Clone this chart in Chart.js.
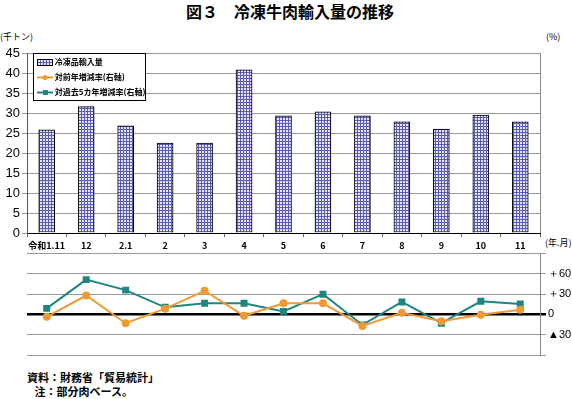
<!DOCTYPE html>
<html>
<head>
<meta charset="utf-8">
<script src="https://cdn.jsdelivr.net/npm/chart.js@4/dist/chart.umd.min.js"></script>
<style>
  body { margin: 0; background: #fff; width: 572px; height: 399px; position: relative; overflow: hidden;
         font-family: "Noto Sans CJK JP", "Liberation Sans", sans-serif; }
  .abs { position: absolute; }
  #title { left: 0; width: 580px; top: 0; text-align: center; font-size: 16px; font-weight: bold; line-height: 22px; }
  .unit { font-size: 9px; top: 30px; }
  #legend { left: 33px; top: 53px; width: 111px; height: 46px; border: 1px solid #000; background: #fff; font-size: 8px; font-weight: bold; }
  .item { position: absolute; left: 3px; height: 10px; line-height: 10px; white-space: nowrap; }
  .item canvas { display: inline-block; vertical-align: middle; }
  #notes { left: 27px; top: 370px; font-size: 11px; font-weight: bold; line-height: 14px; }
</style>
</head>
<body>
<div id="title" class="abs">図３　冷凍牛肉輸入量の推移</div>
<div class="abs unit" style="left:0">(千トン)</div>
<div class="abs unit" style="left:546px">(%)</div>
<div class="abs" style="left:545px; top:236px; font-size:9px;">(年.月)</div>

<div class="abs" style="left:0; top:30px; width:572px; height:225px;"><canvas id="barChart"></canvas></div>
<div class="abs" style="left:0; top:245px; width:572px; height:120px;"><canvas id="lineChart"></canvas></div>

<div id="legend" class="abs">
  <div class="item" style="top:3px"><canvas id="swBar" width="16" height="7"></canvas> 冷凍品輸入量</div>
  <div class="item" style="top:18px"><canvas id="swYoy" width="16" height="7"></canvas> 対前年増減率(右軸)</div>
  <div class="item" style="top:33px"><canvas id="swFive" width="16" height="7"></canvas> 対過去5カ年増減率(右軸)</div>
</div>

<div id="notes" class="abs">資料：財務省「貿易統計」<br>&nbsp;&nbsp;&nbsp;注：部分肉ベース。</div>

<script>
// --- DATA ---
const categories = ['令和1.11', '12', '2.1', '2', '3', '4', '5', '6', '7', '8', '9', '10', '11'];
const importVolume = [25.8, 31.6, 26.8, 22.5, 22.5, 40.8, 29.3, 30.3, 29.3, 27.8, 26.0, 29.5, 27.8];
const yoyChange = [-3.5, 28, -13, 8.5, 35, -2, 16.5, 16.5, -17, 2.5, -10, -0.5, 7];
const fiveYearChange = [9, 51.5, 36, 10.5, 16.5, 16.5, 4.5, 30, -15.5, 18.5, -13, 19.5, 15.5];
const rightTickLabels = { '60': '＋60', '30': '＋30', '0': '0', '-30': '▲30' };

const ORANGE = '#ef9a32';
const TEAL = '#1f8580';

// checkered fill for bars
function makePattern() {
    const c = document.createElement('canvas');
    c.width = 3; c.height = 3;
    const g = c.getContext('2d');
    g.fillStyle = '#e4e4f6';
    g.fillRect(0, 0, 3, 3);
    g.fillStyle = '#5b5bb0';
    g.fillRect(0, 0, 3, 1);
    g.fillRect(0, 0, 1, 3);
    return g.createPattern(c, 'repeat');
}

// right frame line of the bar chart
const frame = {
    id: 'frame',
    afterDraw(chart, args, opts) {
        const { ctx, chartArea: a } = chart;
        if (!opts.right) return;
        ctx.save();
        ctx.strokeStyle = opts.color || '#888';
        ctx.lineWidth = 1;
        ctx.beginPath();
        ctx.moveTo(Math.round(a.right) + 0.5, a.top);
        ctx.lineTo(Math.round(a.right) + 0.5, a.bottom);
        ctx.stroke();
        ctx.restore();
    }
};

const fontFamily = '"Liberation Sans", Arial, sans-serif';

new Chart(document.getElementById('barChart'), {
    type: 'bar',
    data: {
        labels: categories,
        datasets: [{
            label: '冷凍品輸入量',
            data: importVolume,
            backgroundColor: makePattern(),
            borderColor: '#000',
            borderWidth: 1,
            barThickness: 16
        }]
    },
    options: {
        responsive: true,
        maintainAspectRatio: false,
        animation: false,
        layout: { padding: { left: 0, right: 32, top: 23, bottom: 0 } },
        plugins: { legend: { display: false }, tooltip: { enabled: false }, frame: { right: true, color: '#888' } },
        scales: {
            x: {
                afterFit: s => { s.height = 22; },
                grid: { drawOnChartArea: false, drawTicks: true, tickLength: 4, color: '#666', offset: true },
                border: { color: '#000' },
                ticks: {
                    color: '#000', padding: 3, maxRotation: 0, minRotation: 0, autoSkip: false,
                    font: { family: '"Noto Sans CJK JP", sans-serif', size: 9, weight: 'bold' }
                }
            },
            y: {
                min: 0, max: 45,
                afterFit: s => { s.width = 27; },
                grid: { color: '#999', tickLength: 5 },
                border: { color: '#555' },
                ticks: { stepSize: 5, color: '#000', padding: 2, font: { family: fontFamily, size: 13 } }
            }
        }
    },
    plugins: [frame]
});

new Chart(document.getElementById('lineChart'), {
    type: 'line',
    data: {
        labels: categories,
        datasets: [{
            label: '対前年増減率(右軸)',
            data: yoyChange,
            borderColor: ORANGE,
            backgroundColor: ORANGE,
            borderWidth: 2,
            pointStyle: 'circle',
            pointRadius: 3,
            tension: 0
        }, {
            label: '対過去5カ年増減率(右軸)',
            data: fiveYearChange,
            borderColor: TEAL,
            backgroundColor: TEAL,
            borderWidth: 2,
            pointStyle: 'rect',
            pointRadius: 3.5,
            tension: 0
        }]
    },
    options: {
        responsive: true,
        maintainAspectRatio: false,
        animation: false,
        layout: { padding: { left: 27, right: 0, top: 8, bottom: 10 } },
        plugins: { legend: { display: false }, tooltip: { enabled: false } },
        scales: {
            x: { display: false, offset: true },
            y: {
                position: 'right',
                min: -60, max: 90,
                afterFit: s => { s.width = 32; },
                grid: {
                    color: ctx => ctx.tick && ctx.tick.value === 0 ? '#000' : '#999',
                    lineWidth: ctx => ctx.tick && ctx.tick.value === 0 ? 2.5 : 1,
                    tickLength: 6
                },
                border: { color: '#888' },
                ticks: {
                    stepSize: 30, color: '#000', padding: 2,
                    font: { family: fontFamily, size: 11 },
                    callback: v => rightTickLabels[String(v)] || ''
                }
            }
        }
    }
});

// legend swatches
(function () {
    const b = document.getElementById('swBar').getContext('2d');
    b.fillStyle = makePattern();
    b.fillRect(0, 0, 16, 7);
    b.strokeStyle = '#000';
    b.strokeRect(0.5, 0.5, 15, 6);
    [['swYoy', ORANGE, false], ['swFive', TEAL, true]].forEach(([id, col, sq]) => {
        const g = document.getElementById(id).getContext('2d');
        g.strokeStyle = col; g.fillStyle = col; g.lineWidth = 2;
        g.beginPath(); g.moveTo(0, 3.5); g.lineTo(16, 3.5); g.stroke();
        if (sq) g.fillRect(6, 1, 5, 5);
        else { g.beginPath(); g.arc(8, 3.5, 2.5, 0, Math.PI * 2); g.fill(); }
    });
})();
</script>
</body>
</html>
